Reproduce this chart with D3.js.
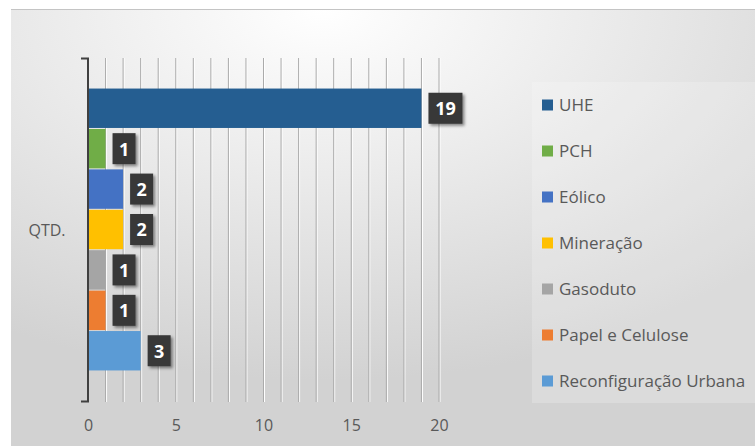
<!DOCTYPE html>
<html>
<head>
<meta charset="utf-8">
<script src="https://cdn.jsdelivr.net/npm/d3@7"></script>
<style>
  html, body { margin: 0; padding: 0; background: #fff; }
  svg text { font-family: "Open Sans", "Noto Sans", sans-serif; }
</style>
</head>
<body>
<svg id="chart"></svg>
<script>
// data
const category = "QTD.";
const seriesNames = ["UHE", "PCH", "Eólico", "Mineração", "Gasoduto", "Papel e Celulose", "Reconfiguração Urbana"];
const seriesValues = [19, 1, 2, 2, 1, 1, 3];
const seriesColors = ["#255e91", "#70ad47", "#4472c4", "#ffc000", "#a5a5a5", "#ed7d31", "#5b9bd5"];
const xTicks = [0, 5, 10, 15, 20];

const W = 755, H = 446;
const margin = {top: 58, left: 88, right: 316, bottom: 44};
const svg = d3.select("#chart").attr("width", W).attr("height", H);

const defs = svg.append("defs");
const bg = defs.append("radialGradient").attr("id", "bg")
    .attr("cx", "42%").attr("cy", "0%").attr("r", "85%");
bg.append("stop").attr("offset", "0%").attr("stop-color", "#ffffff");
bg.append("stop").attr("offset", "100%").attr("stop-color", "#d2d2d2");

const shadow = defs.append("filter").attr("id", "shadow")
    .attr("x", "-30%").attr("y", "-30%").attr("width", "160%").attr("height", "160%");
shadow.append("feDropShadow").attr("dx", 2).attr("dy", 2).attr("stdDeviation", 1.5)
    .attr("flood-color", "#000").attr("flood-opacity", 0.45);

// chart area background
svg.append("rect").attr("x", 11).attr("y", 9).attr("width", W - 11).attr("height", H - 9)
    .attr("fill", "url(#bg)");
svg.append("line").attr("x1", 11).attr("x2", W).attr("y1", 9.5).attr("y2", 9.5)
    .attr("stroke", "#c4c4c4");

// legend panel
svg.append("rect").attr("x", 532).attr("y", 82).attr("width", W - 532).attr("height", 321)
    .attr("fill", "#ffffff").attr("opacity", 0.2);

const height = H - margin.top - margin.bottom;  // 58..402

const x = d3.scaleLinear().domain([0, 20]).range([0, W - margin.left - margin.right]);
const yCat = d3.scaleBand().domain([category]).range([0, height]).paddingInner(0).paddingOuter(0.108);
const ySer = d3.scaleBand().domain(seriesNames).range([0, yCat.bandwidth()]).padding(0);

const g = svg.append("g").attr("transform", `translate(${margin.left},${margin.top})`);

// vertical gridlines
g.selectAll(".grid").data(d3.range(1, 21)).join("line")
    .attr("x1", d => x(d) + 1).attr("x2", d => x(d) + 1)
    .attr("y1", 0).attr("y2", height)
    .attr("stroke", "#ffffff").attr("stroke-width", 1);
g.selectAll(".grid2").data(d3.range(1, 21)).join("line")
    .attr("x1", d => x(d)).attr("x2", d => x(d))
    .attr("y1", 0).attr("y2", height)
    .attr("stroke", "#ababab").attr("stroke-width", 1);

// bars
const rows = seriesNames.map((n, i) => ({name: n, value: seriesValues[i], color: seriesColors[i]}));
const bandY = d => yCat(category) + ySer(d.name);
g.selectAll(".bar").data(rows).join("rect")
    .attr("x", 0).attr("y", d => bandY(d))
    .attr("width", d => x(d.value)).attr("height", ySer.bandwidth() - 1)
    .attr("fill", d => d.color);

// data labels
const boxW = d => String(d.value).length * 11 + 12;
const lab = g.selectAll(".lab").data(rows).join("g")
    .attr("transform", d => `translate(${x(d.value) + 7},${bandY(d) + ySer.bandwidth() / 2})`);
lab.append("rect")
    .attr("x", 0).attr("y", -16)
    .attr("width", boxW).attr("height", 31)
    .attr("fill", "#383838").attr("filter", "url(#shadow)");
lab.append("text")
    .attr("x", d => boxW(d) / 2).attr("y", 0)
    .attr("dy", "0.36em").attr("text-anchor", "middle")
    .attr("fill", "#fff").attr("font-weight", "bold").attr("font-size", 18)
    .text(d => d.value);

// category axis (bracket)
g.append("path")
    .attr("d", `M-7,0.5H0V${height - 0.5}H-7`)
    .attr("fill", "none").attr("stroke", "#404040").attr("stroke-width", 2);

svg.append("text").attr("x", 47).attr("y", margin.top + yCat(category) + yCat.bandwidth() / 2)
    .attr("dy", "0.35em").attr("text-anchor", "middle")
    .attr("fill", "#595959").attr("font-size", 16).text(category);

// value axis labels
const xAxis = g.append("g").attr("transform", `translate(0,${height})`)
    .call(d3.axisBottom(x).tickValues(xTicks).tickSize(0).tickPadding(18));
xAxis.select(".domain").remove();
xAxis.selectAll("text").attr("fill", "#595959").attr("font-size", 16)
    .style("font-family", "'Open Sans', 'Noto Sans', sans-serif");

// legend
const leg = svg.append("g").attr("transform", "translate(542,105)");
const li = leg.selectAll(".li").data(rows).join("g")
    .attr("transform", (d, i) => `translate(0,${i * 46})`);
li.append("rect").attr("x", 0).attr("y", -5.5).attr("width", 11).attr("height", 11)
    .attr("fill", d => d.color);
li.append("text").attr("x", 17).attr("y", 0).attr("dy", "0.35em")
    .attr("fill", "#595959").attr("font-size", 17).text(d => d.name);
</script>
</body>
</html>
